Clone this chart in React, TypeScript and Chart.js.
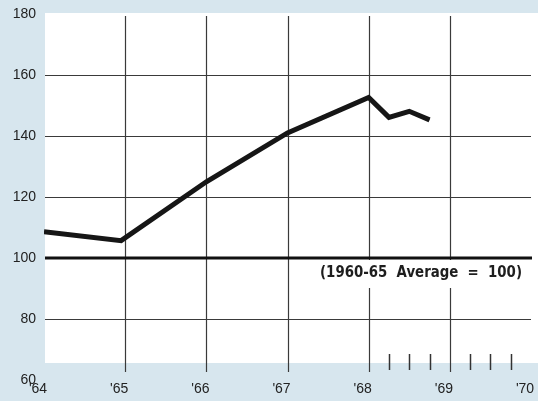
import { useEffect, useRef } from "react";
import { Chart, registerables } from "chart.js";

Chart.register(...registerables);

// ---- data ----
const years = [64.0, 64.95, 66.0, 67.0, 68.0, 68.25, 68.5, 68.75];
const indexValues = [108.6, 105.7, 125.0, 141.0, 152.6, 146.1, 148.1, 145.3];

const xTickValues = [64, 65, 66, 67, 68, 69, 70];
const xTickLabels = ["'64", "'65", "'66", "'67", "'68", "'69", "'70"];
const yTickValues = [60, 80, 100, 120, 140, 160, 180];

const gridYears = [65, 66, 67, 68, 69];
const gridValues = [80, 120, 140, 160];
const baseValue = 100;
const quarterMarks = [68.25, 68.5, 68.75, 69.25, 69.5, 69.75];
const baseLabel = "(1960-65  Average  =  100)";

const FONT = "'Liberation Sans', Arial, sans-serif";

export default function App() {
  const ref = useRef<HTMLCanvasElement | null>(null);

  useEffect(() => {
    if (!ref.current) return;
    const points = years.map((x, i) => ({ x, y: indexValues[i] }));

    const decor = {
      id: "decor",
      beforeDraw(chart: any) {
        const { ctx, chartArea } = chart;
        ctx.save();
        ctx.fillStyle = "#ffffff";
        ctx.fillRect(chartArea.left + 1, chartArea.top - 1, chart.width - chartArea.left, chartArea.bottom - chartArea.top - 16);
        ctx.restore();
      },
      beforeDatasetsDraw(chart: any) {
        const { ctx, chartArea, scales } = chart;
        const xs = scales.x;
        const ys = scales.y;
        ctx.save();
        ctx.strokeStyle = "#3a3a3a";
        ctx.lineWidth = 1.2;
        for (const g of gridYears) {
          const px = Math.round(xs.getPixelForValue(g)) + 0.5;
          ctx.beginPath();
          ctx.moveTo(px, chartArea.top + 2);
          ctx.lineTo(px, chartArea.bottom - 8);
          ctx.stroke();
        }
        for (const v of gridValues) {
          const py = Math.round(ys.getPixelForValue(v)) + 0.5;
          ctx.beginPath();
          ctx.moveTo(chartArea.left + 1, py);
          ctx.lineTo(chartArea.right, py);
          ctx.stroke();
        }
        ctx.strokeStyle = "#111";
        ctx.lineWidth = 3;
        const by = ys.getPixelForValue(baseValue);
        ctx.beginPath();
        ctx.moveTo(chartArea.left + 1, by);
        ctx.lineTo(chartArea.right + 1, by);
        ctx.stroke();
        ctx.strokeStyle = "#333";
        ctx.lineWidth = 1.5;
        for (const q of quarterMarks) {
          const px = Math.round(xs.getPixelForValue(q)) + 0.5;
          ctx.beginPath();
          ctx.moveTo(px, chartArea.bottom - 26);
          ctx.lineTo(px, chartArea.bottom - 10);
          ctx.stroke();
        }
        const right = xs.getPixelForValue(70) - 9;
        const cy = ys.getPixelForValue(95);
        ctx.fillStyle = "#ffffff";
        ctx.fillRect(right - 215, by + 2, 222, 28);
        ctx.font = `bold 16px 'DejaVu Sans Condensed', 'DejaVu Sans', sans-serif`;
        const w = ctx.measureText(baseLabel).width;
        const target = 202;
        ctx.translate(right - target, cy);
        ctx.scale(target / w, 1);
        ctx.fillStyle = "#1e1e1e";
        ctx.textBaseline = "middle";
        ctx.textAlign = "left";
        ctx.fillText(baseLabel, 0, 0);
        ctx.restore();
      },
    };

    const chart = new Chart(ref.current, {
      type: "line",
      data: {
        datasets: [
          {
            data: points,
            borderColor: "#161616",
            borderWidth: 5,
            pointRadius: 0,
            tension: 0,
            borderJoinStyle: "miter",
          },
          {
            data: points,
            borderColor: "#5e5e5e",
            borderWidth: 1.2,
            pointRadius: 0,
            tension: 0,
          },
        ],
      },
      options: {
        responsive: false,
        animation: false,
        layout: { padding: { left: 0, right: 7, top: 14, bottom: 0 } },
        plugins: { legend: { display: false }, tooltip: { enabled: false } },
        scales: {
          x: {
            type: "linear",
            min: 64,
            max: 70,
            grid: { display: false, drawTicks: false },
            border: { display: false },
            afterBuildTicks: (s: any) => {
              s.ticks = xTickValues.map((v) => ({ value: v }));
            },
            afterFit: (s: any) => {
              s.height = 21;
              s.paddingLeft = 0;
              s.paddingRight = 0;
            },
            ticks: {
              autoSkip: false,
              maxRotation: 0,
              padding: 1,
              labelOffset: -6,
              color: "#222",
              font: { family: FONT, size: 14 },
              callback: (v: any) => xTickLabels[xTickValues.indexOf(Number(v))] ?? "",
            },
          },
          y: {
            type: "linear",
            min: 60,
            max: 180,
            grid: { display: false, drawTicks: false },
            border: { display: false },
            afterBuildTicks: (s: any) => {
              s.ticks = yTickValues.map((v) => ({ value: v }));
            },
            afterFit: (s: any) => {
              s.width = 44;
              s.paddingTop = 0;
              s.paddingBottom = 0;
            },
            ticks: {
              padding: 8,
              color: "#222",
              font: { family: FONT, size: 14 },
            },
          },
        },
      },
      plugins: [decor],
    });
    return () => chart.destroy();
  }, []);

  return (
    <div
      style={{
        position: "absolute",
        left: 0,
        top: 0,
        width: 538,
        height: 401,
        background: "#d7e6ee",
      }}
    >
      <canvas ref={ref} width={538} height={401} style={{ display: "block" }} />
    </div>
  );
}
